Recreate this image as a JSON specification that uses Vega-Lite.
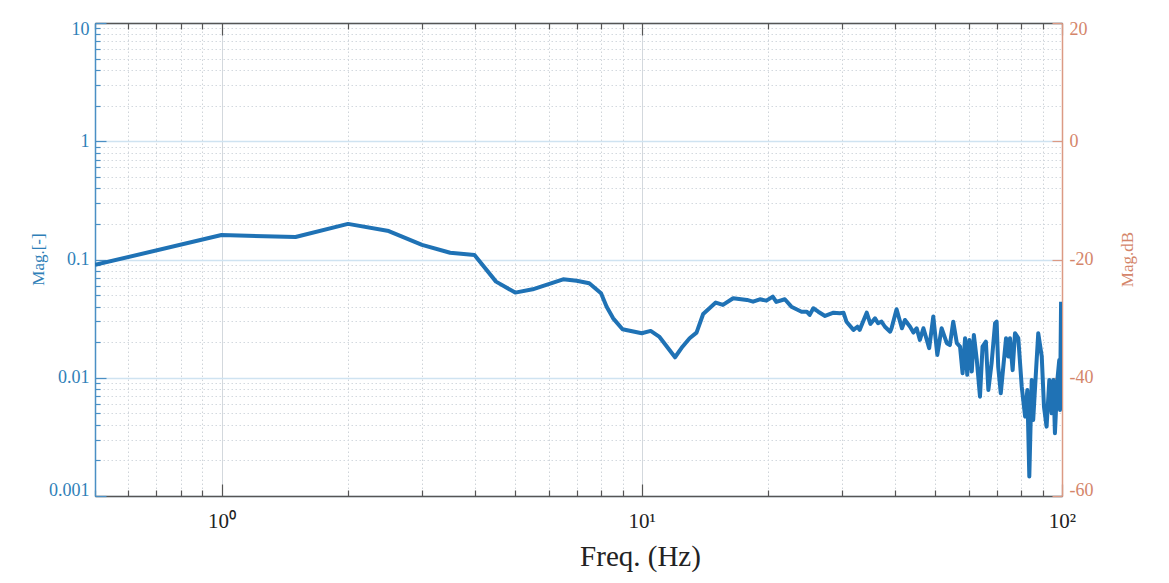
{
  "$schema": "https://vega.github.io/schema/vega-lite/v6.json",
  "width": 967,
  "height": 473,
  "autosize": {"type": "none"},
  "padding": {"left": 95, "top": 23, "right": 107, "bottom": 87},
  "background": "white",
  "config": {
    "view": {"stroke": null},
    "font": "Liberation Serif"
  },
  "data": {
    "values": [
      {"f": 0.5, "m": 0.09}, {"f": 1.0, "m": 0.161}, {"f": 1.5, "m": 0.155}, {"f": 2.0, "m": 0.2},
      {"f": 2.5, "m": 0.174}, {"f": 3.0, "m": 0.133}, {"f": 3.5, "m": 0.114}, {"f": 4.0, "m": 0.109},
      {"f": 4.5, "m": 0.065}, {"f": 5.0, "m": 0.0525}, {"f": 5.5, "m": 0.056}, {"f": 6.5, "m": 0.068},
      {"f": 7.0, "m": 0.0662}, {"f": 7.5, "m": 0.063}, {"f": 8.0, "m": 0.0518}, {"f": 8.25, "m": 0.0399},
      {"f": 8.55, "m": 0.0318}, {"f": 9.0, "m": 0.0257}, {"f": 10.0, "m": 0.0238}, {"f": 10.5, "m": 0.0249},
      {"f": 11.0, "m": 0.0223}, {"f": 12.0, "m": 0.0149}, {"f": 12.5, "m": 0.0183}, {"f": 13.0, "m": 0.0216},
      {"f": 13.5, "m": 0.0241}, {"f": 14.0, "m": 0.0346}, {"f": 15.0, "m": 0.0432}, {"f": 15.6, "m": 0.0413},
      {"f": 16.5, "m": 0.047}, {"f": 17.8, "m": 0.0455}, {"f": 18.4, "m": 0.044}, {"f": 19.1, "m": 0.0461},
      {"f": 19.8, "m": 0.0449}, {"f": 20.5, "m": 0.0485}, {"f": 20.9, "m": 0.0438}, {"f": 21.9, "m": 0.0461},
      {"f": 22.7, "m": 0.0399}, {"f": 24.0, "m": 0.0362}, {"f": 24.7, "m": 0.0362}, {"f": 25.1, "m": 0.034},
      {"f": 25.6, "m": 0.0387}, {"f": 26.3, "m": 0.0362}, {"f": 27.3, "m": 0.0333}, {"f": 28.6, "m": 0.0355},
      {"f": 29.6, "m": 0.0351}, {"f": 30.2, "m": 0.0355}, {"f": 30.7, "m": 0.0298}, {"f": 31.9, "m": 0.0254},
      {"f": 32.6, "m": 0.027}, {"f": 33.0, "m": 0.0254}, {"f": 34.3, "m": 0.0355}, {"f": 35.0, "m": 0.0285},
      {"f": 35.9, "m": 0.0318}, {"f": 36.5, "m": 0.0289}, {"f": 37.2, "m": 0.0298}, {"f": 37.9, "m": 0.027},
      {"f": 39.0, "m": 0.0245}, {"f": 39.3, "m": 0.0262}, {"f": 40.4, "m": 0.038}, {"f": 41.6, "m": 0.0262},
      {"f": 42.3, "m": 0.0308}, {"f": 43.5, "m": 0.027}, {"f": 44.3, "m": 0.0241}, {"f": 45.1, "m": 0.0262},
      {"f": 45.9, "m": 0.0209}, {"f": 46.8, "m": 0.0262}, {"f": 48.3, "m": 0.0178}, {"f": 49.4, "m": 0.0329},
      {"f": 50.5, "m": 0.0156}, {"f": 51.7, "m": 0.0262}, {"f": 53.2, "m": 0.0196}, {"f": 54.1, "m": 0.0189},
      {"f": 55.1, "m": 0.0298}, {"f": 56.2, "m": 0.0196}, {"f": 57.2, "m": 0.0183}, {"f": 58.0, "m": 0.0109},
      {"f": 58.8, "m": 0.0216}, {"f": 59.5, "m": 0.0106}, {"f": 60.2, "m": 0.0209}, {"f": 61.0, "m": 0.0113},
      {"f": 61.7, "m": 0.023}, {"f": 62.7, "m": 0.0141}, {"f": 63.8, "m": 0.00692}, {"f": 64.7, "m": 0.0183},
      {"f": 65.9, "m": 0.0202}, {"f": 66.8, "m": 0.00788}, {"f": 68.0, "m": 0.0133}, {"f": 69.3, "m": 0.0289},
      {"f": 69.9, "m": 0.0298}, {"f": 70.5, "m": 0.0124}, {"f": 71.5, "m": 0.0074}, {"f": 72.5, "m": 0.0124},
      {"f": 73.6, "m": 0.0216}, {"f": 74.5, "m": 0.0151}, {"f": 75.2, "m": 0.0216}, {"f": 76.3, "m": 0.0116},
      {"f": 77.3, "m": 0.0238}, {"f": 78.7, "m": 0.0216}, {"f": 80.2, "m": 0.0084}, {"f": 81.7, "m": 0.00469},
      {"f": 82.7, "m": 0.00788}, {"f": 83.6, "m": 0.00146}, {"f": 84.7, "m": 0.00958}, {"f": 85.4, "m": 0.0044},
      {"f": 86.8, "m": 0.012}, {"f": 87.8, "m": 0.0238}, {"f": 89.5, "m": 0.0151}, {"f": 90.6, "m": 0.0057},
      {"f": 91.9, "m": 0.00386}, {"f": 93.3, "m": 0.00958}, {"f": 94.5, "m": 0.00501}, {"f": 95.4, "m": 0.00958},
      {"f": 96.2, "m": 0.0034}, {"f": 97.5, "m": 0.00958}, {"f": 98.5, "m": 0.0141}, {"f": 98.9, "m": 0.00534},
      {"f": 99.5, "m": 0.044}
    ]
  },
  "layer": [
    {
      "mark": {"type": "line", "color": "#1f72b5", "strokeWidth": 4, "strokeJoin": "round", "clip": true},
      "encoding": {
        "x": {
          "field": "f", "type": "quantitative",
          "scale": {"type": "log", "domain": [0.5, 100], "nice": false},
          "axis": {
            "orient": "bottom",
            "values": [0.5, 0.6, 0.7, 0.8, 0.9, 1, 2, 3, 4, 5, 6, 7, 8, 9, 10, 20, 30, 40, 50, 60, 70, 80, 90, 100],
            "labelExpr": "datum.value == 1 ? '10⁰' : datum.value == 10 ? '10¹' : datum.value == 100 ? '10²' : ''",
            "labelOverlap": false,
            "labelFont": "Liberation Serif",
            "labelFontSize": 21,
            "labelColor": "#222222",
            "labelPadding": 26,
            "labelFlush": false,
            "domainColor": "#555555",
            "domainWidth": 1.5,
            "tickColor": "#555555",
            "tickWidth": 1.2,
            "tickSize": {"condition": {"test": "abs(log(datum.value)/LN10 - round(log(datum.value)/LN10)) < 1e-6", "value": -12}, "value": -6},
            "grid": true,
            "gridColor": {"condition": {"test": "abs(log(datum.value)/LN10 - round(log(datum.value)/LN10)) < 1e-6", "value": "#d3d8dd"}, "value": "#cfd4d9"},
            "gridDash": {"condition": {"test": "abs(log(datum.value)/LN10 - round(log(datum.value)/LN10)) < 1e-6", "value": []}, "value": [1.5, 2.5]},
            "gridWidth": 1,
            "title": "Freq. (Hz)",
            "titleFont": "Liberation Serif",
            "titleFontSize": 29,
            "titleFontWeight": "normal",
            "titleColor": "#222222",
            "titleX": 545,
            "titleY": 69,
            "titleBaseline": "alphabetic"
          }
        },
        "y": {
          "field": "m", "type": "quantitative",
          "scale": {"type": "log", "domain": [0.001, 10], "nice": false},
          "axis": {
            "orient": "left",
            "values": [0.001, 0.002, 0.003, 0.004, 0.005, 0.006, 0.007, 0.008, 0.009,
                       0.01, 0.02, 0.03, 0.04, 0.05, 0.06, 0.07, 0.08, 0.09,
                       0.1, 0.2, 0.3, 0.4, 0.5, 0.6, 0.7, 0.8, 0.9,
                       1, 2, 3, 4, 5, 6, 7, 8, 9, 10],
            "labelExpr": "abs(log(datum.value)/LN10 - round(log(datum.value)/LN10)) < 1e-6 ? format(datum.value, '~g') : ''",
            "labelOverlap": false,
            "labelFont": "Liberation Serif",
            "labelFontSize": 18,
            "labelColor": "#2f7fb8",
            "labelPadding": 17,
            "labelFlush": true,
            "labelFlushOffset": 3,
            "domainColor": "#4a8fc4",
            "domainWidth": 1.5,
            "tickColor": "#4a8fc4",
            "tickWidth": 1.2,
            "tickSize": {"condition": {"test": "abs(log(datum.value)/LN10 - round(log(datum.value)/LN10)) < 1e-6", "value": -11}, "value": -5},
            "grid": true,
            "gridColor": {"condition": {"test": "abs(log(datum.value)/LN10 - round(log(datum.value)/LN10)) < 1e-6", "value": "#cfe3f1"}, "value": "#d3d9df"},
            "gridDash": {"condition": {"test": "abs(log(datum.value)/LN10 - round(log(datum.value)/LN10)) < 1e-6", "value": []}, "value": [1.5, 2.5]},
            "gridWidth": {"condition": {"test": "abs(log(datum.value)/LN10 - round(log(datum.value)/LN10)) < 1e-6", "value": 1.5}, "value": 1},
            "title": "Mag.[-]",
            "titleFont": "Liberation Serif",
            "titleFontSize": 17,
            "titleFontWeight": "normal",
            "titleColor": "#2f7fb8",
            "titleAngle": -90,
            "titleX": -57,
            "titleY": 236,
            "titleAlign": "center",
            "titleBaseline": "middle"
          }
        }
      }
    },
    {
      "mark": {"type": "point", "opacity": 0},
      "encoding": {
        "x": {
          "field": "f", "type": "quantitative",
          "scale": {"type": "log", "domain": [0.5, 100], "nice": false},
          "axis": {
            "orient": "top",
            "values": [0.5, 0.6, 0.7, 0.8, 0.9, 1, 2, 3, 4, 5, 6, 7, 8, 9, 10, 20, 30, 40, 50, 60, 70, 80, 90, 100],
            "labels": false,
            "grid": false,
            "title": null,
            "domainColor": "#555555",
            "domainWidth": 1.5,
            "tickColor": "#555555",
            "tickWidth": 1.2,
            "tickSize": {"condition": {"test": "abs(log(datum.value)/LN10 - round(log(datum.value)/LN10)) < 1e-6", "value": -12}, "value": -6}
          }
        }
      }
    },
    {
      "data": {"values": [{"db": -60}, {"db": 20}]},
      "mark": {"type": "point", "opacity": 0},
      "encoding": {
        "y": {
          "field": "db", "type": "quantitative",
          "scale": {"domain": [-60, 20], "nice": false, "zero": false},
          "axis": {
            "orient": "right",
            "values": [-60, -40, -20, 0, 20],
            "labelExpr": "'' + datum.value",
            "labelFont": "Liberation Serif",
            "labelFontSize": 18,
            "labelColor": "#d4856a",
            "labelPadding": 17,
            "labelFlush": true,
            "labelFlushOffset": 3,
            "labelOverlap": false,
            "domainColor": "#dc9a84",
            "domainWidth": 1.5,
            "tickColor": "#dc9a84",
            "tickWidth": 1.2,
            "tickSize": -10,
            "grid": false,
            "title": "Mag.dB",
            "titleFont": "Liberation Serif",
            "titleFontSize": 17,
            "titleFontWeight": "normal",
            "titleColor": "#d4856a",
            "titleAngle": -90,
            "titleX": 65,
            "titleY": 236,
            "titleAlign": "center",
            "titleBaseline": "middle"
          }
        }
      }
    }
  ],
  "resolve": {"scale": {"y": "independent"}, "axis": {"x": "independent", "y": "independent"}}
}
